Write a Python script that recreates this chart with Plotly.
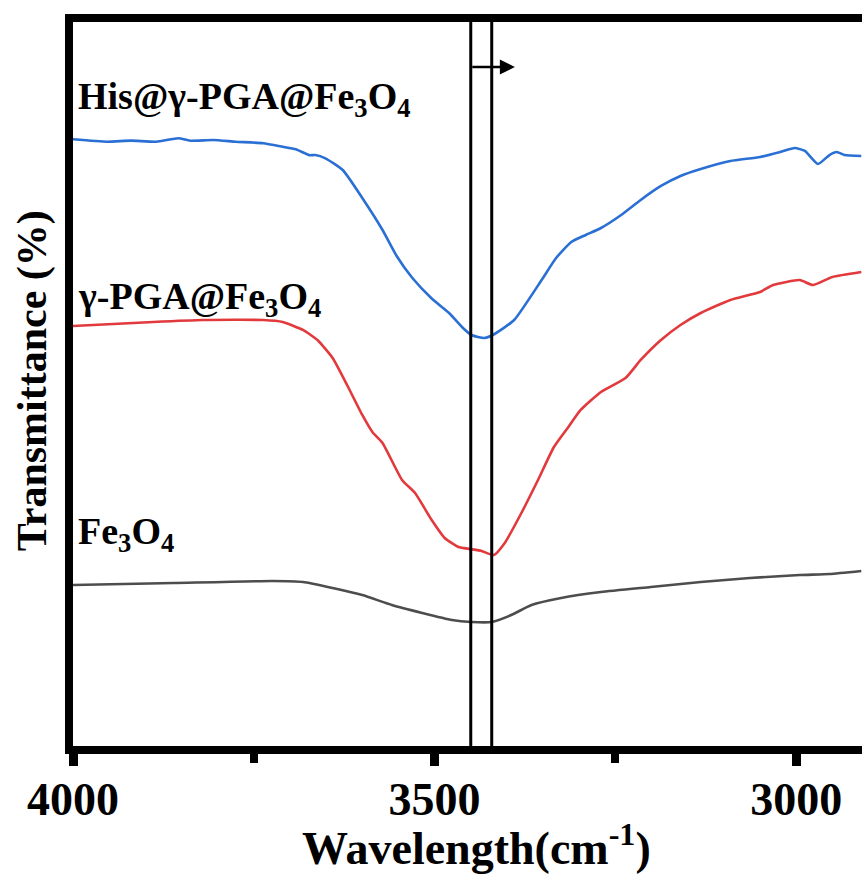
import plotly.graph_objects as go

# ---- data (wavenumber cm^-1, transmittance arbitrary offset units) ----
his_wn = [4000, 3953, 3920, 3885, 3854, 3838, 3806, 3775, 3737, 3710, 3692, 3673, 3665, 3651,
          3627, 3600, 3572, 3552, 3531, 3504, 3480, 3460, 3449, 3431, 3417, 3390, 3352, 3332,
          3311, 3291, 3270, 3242, 3215, 3187, 3160, 3132, 3091, 3050, 3022, 3002, 2988, 2970,
          2954, 2944, 2933, 2910]
his_t = [83.43, 83.10, 83.24, 83.10, 83.57, 83.24, 83.33, 83.10, 82.88, 82.40, 82.06, 81.25, 81.28, 80.83,
         79.23, 75.41, 71.04, 67.41, 64.51, 61.68, 59.70, 57.58, 56.69, 56.28, 56.83, 58.74, 64.21, 67.21,
         69.40, 70.36, 71.31, 73.09, 75.14, 77.05, 78.42, 79.37, 80.46, 81.01, 81.69, 82.24, 81.83, 80.05,
         81.28, 81.69, 81.28, 81.15]

pga_wn = [4000, 3889, 3820, 3737, 3710, 3682, 3662, 3641, 3621, 3600, 3586, 3572, 3545, 3527, 3504,
          3486, 3467, 3451, 3435, 3418, 3403, 3380, 3357, 3335, 3315, 3298, 3270, 3236, 3215, 3187,
          3160, 3132, 3091, 3050, 3032, 2995, 2977, 2950, 2910]
pga_t = [57.92, 58.47, 58.74, 58.74, 58.47, 57.38, 56.01, 53.55, 49.86, 45.77, 43.44, 41.94, 36.89, 35.11, 31.42,
         28.96, 27.73, 27.46, 27.19, 26.64, 28.28, 32.38, 36.89, 41.39, 44.13, 46.45, 48.91, 50.82, 53.28, 56.01,
         58.06, 59.70, 61.48, 62.57, 63.52, 64.21, 63.52, 64.62, 65.30]

fe_wn = [4000, 3930, 3861, 3724, 3682, 3641, 3600, 3559, 3517, 3476, 3449, 3421, 3394, 3366,
         3325, 3270, 3201, 3132, 3064, 2995, 2954, 2910]
fe_t = [22.54, 22.68, 22.81, 23.09, 22.95, 22.13, 21.17, 19.81, 18.72, 17.76, 17.49, 17.49, 18.44, 19.81,
        20.77, 21.58, 22.27, 22.95, 23.50, 23.91, 24.04, 24.45]

series_names = ["His@γ-PGA@Fe<sub>3</sub>O<sub>4</sub>", "γ-PGA@Fe<sub>3</sub>O<sub>4</sub>", "Fe<sub>3</sub>O<sub>4</sub>"]
label_y = [0.894, 0.617, 0.293]   # paper positions of the text labels
peak_lines = [3450, 3421]
arrow_end = 3389
arrow_level = 93.3
x_ticks = [4000, 3500, 3000]
x_minor = [3750, 3250]

colors = ["#2a6fd4", "#e23a3c", "#4d4d4d"]
FONT = "Liberation Serif"

fig = go.Figure()
for wn, t, c in [(his_wn, his_t, colors[0]), (pga_wn, pga_t, colors[1]), (fe_wn, fe_t, colors[2])]:
    fig.add_trace(go.Scatter(x=wn, y=t, mode="lines", line=dict(color=c, width=2.6, shape="spline", smoothing=0.5),
                             showlegend=False))

for v in peak_lines:
    fig.add_shape(type="line", xref="x", yref="paper", x0=v, x1=v, y0=0, y1=1,
                  line=dict(color="black", width=3))

fig.add_annotation(x=arrow_end, y=arrow_level, ax=peak_lines[0], ay=arrow_level,
                   xref="x", yref="y", axref="x", ayref="y", text="", showarrow=True,
                   arrowhead=2, arrowsize=1.2, arrowwidth=2.5, arrowcolor="black")

for name, yy in zip(series_names, label_y):
    fig.add_annotation(x=0.004, y=yy, xref="paper", yref="paper", text=name, showarrow=False,
                       xanchor="left", yanchor="middle",
                       font=dict(family=FONT, size=38, color="black", weight="bold"))

fig.add_annotation(x=0.511, y=-0.137, xref="paper", yref="paper",
                   text="Wavelength(cm<sup>-1</sup>)", showarrow=False,
                   xanchor="center", yanchor="middle",
                   font=dict(family=FONT, size=46, color="black", weight="bold"))
fig.add_annotation(x=-0.051, y=0.505, xref="paper", yref="paper",
                   text="Transmittance (%)", showarrow=False, textangle=-90,
                   xanchor="center", yanchor="middle",
                   font=dict(family=FONT, size=42, color="black", weight="bold"))

fig.update_layout(
    width=862, height=874,
    margin=dict(l=73, r=0, t=22, b=128),
    paper_bgcolor="white", plot_bgcolor="white",
    xaxis=dict(range=[4000, 2909], tickvals=x_ticks, ticktext=[str(v) for v in x_ticks],
               ticks="outside", ticklen=12, tickwidth=9, tickcolor="black",
               showline=True, linewidth=8, linecolor="black", mirror=True,
               showgrid=False, zeroline=False, ticklabelstandoff=-6,
               minor=dict(tickvals=x_minor, ticks="outside", ticklen=9, tickwidth=8, tickcolor="black"),
               tickfont=dict(family=FONT, size=46, color="black", weight="bold")),
    yaxis=dict(range=[0.55, 99.45], showline=True, linewidth=8, linecolor="black",
               showticklabels=False, ticks="", showgrid=False, zeroline=False),
)

fig.write_html("out.html")
